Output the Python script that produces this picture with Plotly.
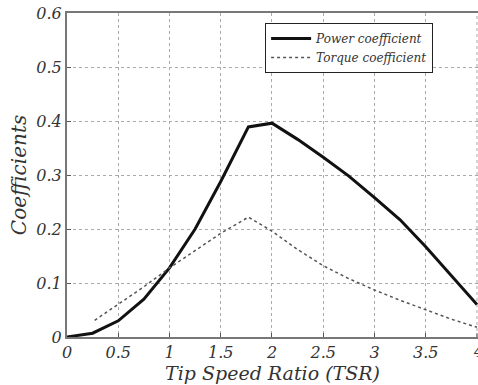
import plotly.graph_objects as go

tsr = [0, 0.25, 0.5, 0.75, 1.0, 1.25, 1.5, 1.77, 2.0, 2.25, 2.5, 2.75, 3.0, 3.25, 3.5, 3.75, 4.0]
power = [0, 0.007, 0.03, 0.07, 0.128, 0.2, 0.288, 0.389, 0.396, 0.366, 0.333, 0.298, 0.258, 0.217, 0.167, 0.113, 0.06]
tsr_t = [0.27, 0.5, 0.75, 1.0, 1.25, 1.5, 1.77, 2.0, 2.25, 2.5, 2.75, 3.0, 3.25, 3.5, 3.75, 4.0]
torque = [0.031, 0.06, 0.093, 0.128, 0.16, 0.192, 0.222, 0.196, 0.162, 0.132, 0.108, 0.087, 0.068, 0.05, 0.033, 0.018]

xticks = [0, 0.5, 1, 1.5, 2, 2.5, 3, 3.5]
xticklabels = ["0", "0.5", "1", "1.5", "2", "2.5", "3", "3.5"]
last_xtick = 4
last_xticklabel = "4"
yticks = [0, 0.1, 0.2, 0.3, 0.4, 0.5, 0.6]
yticklabels = ["0", "0.1", "0.2", "0.3", "0.4", "0.5", "0.6"]

serif = "DejaVu Serif"
txt = "#333333"

fig = go.Figure()
fig.add_trace(go.Scatter(x=tsr, y=power, mode="lines", name="<i>Power coefficient</i>",
                         line=dict(color="#111111", width=3)))
fig.add_trace(go.Scatter(x=tsr_t, y=torque, mode="lines", name="<i>Torque coefficient</i>",
                         line=dict(color="#555555", width=1.5, dash="dot")))

fig.add_annotation(x=last_xtick, y=0, xref="x", yref="y", text="<i>%s</i>" % last_xticklabel,
                   showarrow=False, yanchor="top", yshift=-3, xshift=2,
                   font=dict(family=serif, size=16, color=txt))

fig.update_layout(
    width=478, height=385,
    margin=dict(l=67, r=0, t=13, b=48),
    paper_bgcolor="white", plot_bgcolor="white",
    font=dict(family=serif, color=txt),
    showlegend=True,
    legend=dict(x=0.482, y=0.969, xanchor="left", yanchor="top",
                bgcolor="white", bordercolor="#222222", borderwidth=1,
                font=dict(family=serif, size=12, color=txt),
                tracegroupgap=0, itemwidth=40),
    xaxis=dict(range=[0, 4.01], tickvals=xticks, ticktext=["<i>%s</i>" % t for t in xticklabels],
               showline=True, linecolor="#777777", linewidth=2, mirror=True,
               ticks="inside", ticklen=4, tickcolor="#555555",
               showgrid=True, gridcolor="#aaaaaa", griddash="dot", gridwidth=1,
               zeroline=False,
               tickfont=dict(family=serif, size=16, color=txt),
               title=dict(text="<i>Tip Speed Ratio (TSR)</i>", standoff=2,
                          font=dict(family=serif, size=19, color=txt))),
    yaxis=dict(range=[0, 0.6], tickvals=yticks, ticktext=["<i>%s</i>" % t for t in yticklabels],
               showline=True, linecolor="#777777", linewidth=2, mirror=False,
               ticks="inside", ticklen=4, tickcolor="#555555",
               showgrid=True, gridcolor="#aaaaaa", griddash="dot", gridwidth=1,
               zeroline=False,
               tickfont=dict(family=serif, size=16, color=txt),
               title=dict(text="<i>Coefficients</i>", standoff=4,
                          font=dict(family=serif, size=20, color=txt))),
)
fig.add_shape(type="line", xref="x", yref="paper", x0=last_xtick, x1=last_xtick, y0=0, y1=0.012,
              line=dict(color="#555555", width=1))
fig.add_shape(type="line", xref="x", yref="paper", x0=last_xtick, x1=last_xtick, y0=0, y1=1,
              line=dict(color="#aaaaaa", width=1, dash="dot"), layer="below")

fig.write_html("out.html")
